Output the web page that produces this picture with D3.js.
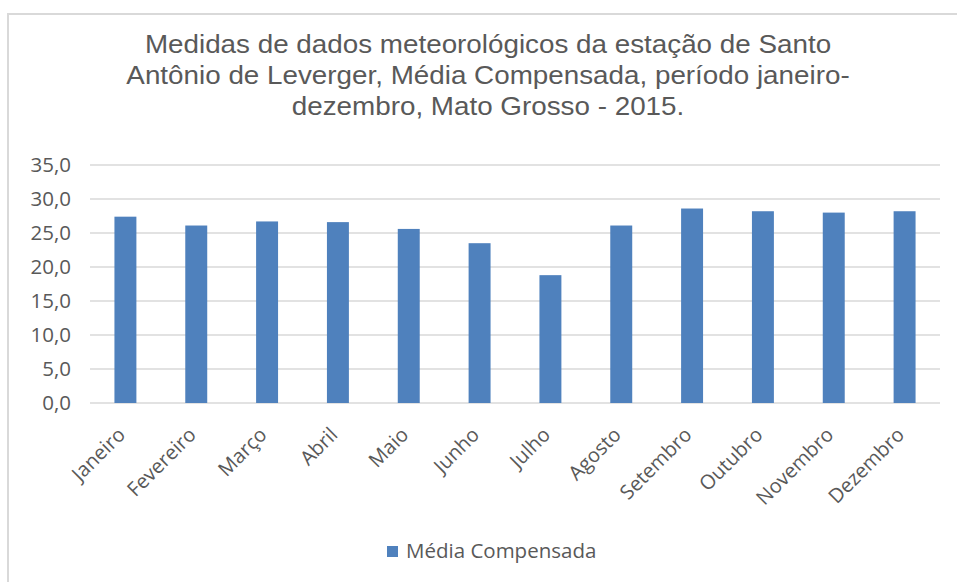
<!DOCTYPE html>
<html>
<head>
<meta charset="utf-8">
<script src="https://cdn.jsdelivr.net/npm/d3@7"></script>
<style>
  body { margin: 0; background: #fff; }
  svg { display: block; }
</style>
</head>
<body>
<svg id="chart" width="957" height="582"></svg>
<script>
const months = ["Janeiro", "Fevereiro", "Março", "Abril", "Maio", "Junho",
                "Julho", "Agosto", "Setembro", "Outubro", "Novembro", "Dezembro"];
const media  = [27.4, 26.1, 26.7, 26.6, 25.6, 23.5, 18.8, 26.1, 28.6, 28.2, 28.0, 28.2];
const yTicks = [0, 5, 10, 15, 20, 25, 30, 35];
const titleLines = [
  "Medidas de dados meteorológicos da estação de Santo",
  "Antônio de Leverger, Média Compensada, período janeiro-",
  "dezembro, Mato Grosso - 2015."
];
const seriesName = "Média Compensada";

const svg = d3.select("#chart");
const textCol = "#595959";
const barCol  = "#4f81bd";

// chart frame
svg.append("rect")
  .attr("x", 8).attr("y", 14)
  .attr("width", 960).attr("height", 580)
  .attr("fill", "#fff")
  .attr("stroke", "#d9d9d9").attr("stroke-width", 2);

// title (source picture is a bit stretched sideways)
svg.append("g")
  .attr("transform", "translate(488,0) scale(1.07,1)")
  .selectAll("text")
  .data(titleLines).enter().append("text")
    .attr("x", 0).attr("y", (d, i) => 53 + i * 31)
    .attr("text-anchor", "middle")
    .attr("font-family", "Liberation Sans, Arial, sans-serif")
    .attr("font-size", 26)
    .attr("fill", textCol)
    .text(d => d);

const plot = { left: 90, right: 940, top: 165, bottom: 403 };

const x = d3.scaleBand()
  .domain(months)
  .range([plot.left, plot.right])
  .paddingInner(0.69).paddingOuter(0.345);

const y = d3.scaleLinear()
  .domain([0, 35])
  .range([plot.bottom, plot.top]);

// gridlines
svg.append("g").selectAll("line")
  .data(yTicks).enter().append("line")
    .attr("x1", plot.left).attr("x2", plot.right)
    .attr("y1", d => y(d)).attr("y2", d => y(d))
    .attr("stroke", "#d9d9d9").attr("stroke-width", 1.5);

// y axis labels
const yAxis = svg.append("g")
  .attr("transform", `translate(${plot.left - 19},0)`)
  .call(d3.axisLeft(y).tickValues(yTicks).tickSize(0)
    .tickFormat(d => d3.format(".1f")(d).replace(".", ",")));
yAxis.select(".domain").remove();
yAxis.selectAll("text")
  .attr("x", 0)
  .attr("font-family", "Open Sans, sans-serif")
  .attr("font-size", 20.5)
  .attr("fill", textCol);

// bars
svg.append("g").selectAll("rect")
  .data(media).enter().append("rect")
    .attr("x", (d, i) => x(months[i]))
    .attr("y", d => y(d))
    .attr("width", x.bandwidth())
    .attr("height", d => y(0) - y(d))
    .attr("fill", barCol);

// x axis labels, rotated
const xAxis = svg.append("g")
  .attr("transform", `translate(0,${plot.bottom})`)
  .call(d3.axisBottom(x).tickSize(0));
xAxis.select(".domain").remove();
xAxis.selectAll("text")
  .attr("y", 0).attr("dy", 0)
  .attr("font-family", "Open Sans, sans-serif")
  .attr("font-size", 20)
  .attr("fill", textCol)
  .attr("text-anchor", "end")
  .attr("transform", "translate(1,33) rotate(-45)");

// legend
const legend = svg.append("g").attr("transform", "translate(387,546)");
legend.append("rect")
  .attr("width", 11).attr("height", 11)
  .attr("fill", barCol);
legend.append("text")
  .attr("x", 19).attr("y", 12)
  .attr("font-family", "Open Sans, sans-serif")
  .attr("font-size", 20.5)
  .attr("fill", textCol)
  .text(seriesName);
</script>
</body>
</html>
